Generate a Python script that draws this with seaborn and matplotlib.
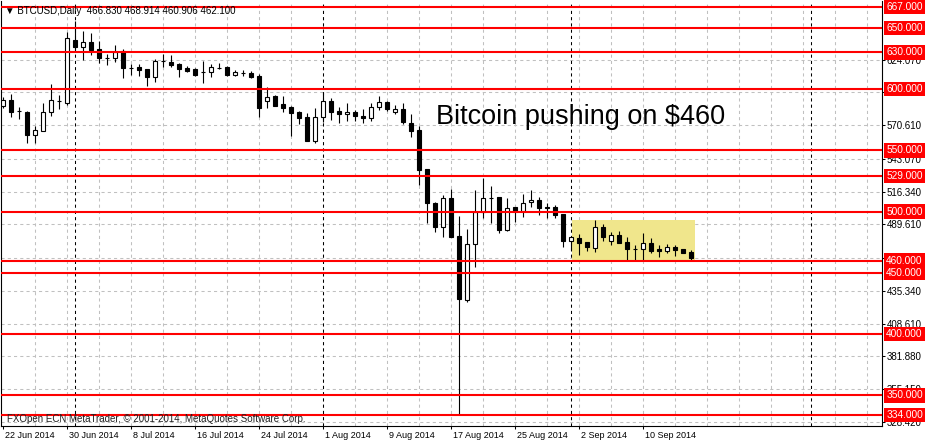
import numpy as np
import pandas as pd
import matplotlib
matplotlib.use('Agg')
import matplotlib.pyplot as plt
import matplotlib.transforms as mtransforms
from matplotlib.patches import Rectangle
import seaborn as sns

# BTCUSD daily candles, 22 Jun 2014 .. 16 Sep 2014
dates = pd.date_range('2014-06-22', '2014-09-16', freq='D')
opens = [586.3, 591.2, 582.2, 581.4, 562.6, 565.9, 581.4, 590.4, 588.8, 640.2,
         634.5, 638.6, 632.9, 625.5, 625.5, 631.2, 617.3, 618.2, 616.5, 610.0,
         623.1, 622.2, 620.6, 617.3, 616.5, 614.1, 614.1, 617.3, 618.2, 611.6,
         613.3, 613.3, 610.8, 590.4, 594.5, 587.9, 585.5, 581.4, 577.3, 557.7,
         577.3, 590.4, 582.2, 579.8, 581.4, 578.1, 576.5, 585.5, 589.6, 581.4,
         583.9, 572.4, 566.7, 534.9, 507.1, 487.5, 511.2, 480.2, 427.9, 473.6,
         499.8, 511.2, 512.0, 485.1, 503.8, 500.6, 507.9, 509.6, 503.4, 503.8,
         498.1, 476.1, 478.5, 475.3, 470.4, 487.5, 476.1, 481.0, 475.3, 469.6,
         469.6, 474.5, 469.6, 467.9, 471.2, 469.6, 466.83]
highs = [593.7, 596.1, 585.5, 582.0, 570.0, 588.8, 604.3, 595.3, 646.7, 655.7,
         647.6, 645.9, 639.4, 628.8, 636.1, 632.9, 620.6, 620.6, 616.8, 624.7,
         628.8, 628.0, 621.0, 619.0, 617.0, 623.1, 620.6, 621.4, 619.0, 615.7,
         615.7, 614.9, 612.4, 601.8, 595.0, 594.5, 586.0, 582.0, 580.6, 584.7,
         597.7, 592.8, 585.5, 588.8, 583.0, 583.9, 588.8, 594.5, 590.4, 587.1,
         588.8, 579.8, 570.0, 535.0, 507.5, 513.6, 518.5, 496.5, 485.9, 517.7,
         527.5, 521.0, 512.3, 511.2, 504.0, 514.5, 517.7, 512.0, 507.1, 505.5,
         498.5, 479.6, 481.8, 475.6, 493.2, 490.0, 483.4, 484.2, 479.4, 472.8,
         482.6, 478.5, 472.8, 473.6, 472.8, 469.8, 468.914]
lows = [584.7, 577.3, 575.7, 556.1, 556.1, 565.5, 578.1, 583.9, 587.1, 632.0,
        623.9, 628.0, 621.4, 619.8, 622.2, 609.2, 611.6, 610.8, 602.6, 605.9,
        618.2, 618.2, 610.0, 614.1, 611.0, 605.1, 610.0, 616.5, 611.0, 610.8,
        610.8, 609.2, 577.3, 584.7, 586.0, 581.4, 561.8, 571.6, 557.5, 556.1,
        573.2, 574.9, 572.4, 574.1, 574.1, 572.4, 574.1, 583.0, 582.2, 579.8,
        571.6, 561.0, 521.8, 490.8, 483.4, 479.4, 479.0, 334.0, 426.3, 454.9,
        494.9, 490.8, 482.6, 484.2, 491.6, 495.7, 503.8, 497.3, 494.9, 494.9,
        471.2, 468.7, 464.7, 467.9, 467.1, 476.1, 472.8, 474.3, 460.6, 460.6,
        460.6, 466.3, 463.0, 466.3, 463.8, 466.0, 460.906]
closes = [591.2, 581.4, 582.0, 562.6, 566.7, 581.4, 591.2, 590.0, 641.8, 634.5,
          638.6, 632.0, 625.5, 625.2, 630.4, 617.3, 617.0, 615.7, 610.0, 623.1,
          622.8, 619.8, 616.5, 614.9, 611.6, 613.8, 618.2, 617.6, 611.6, 614.1,
          613.0, 610.0, 584.7, 593.7, 586.3, 584.7, 580.6, 576.5, 557.7, 577.3,
          590.4, 581.4, 579.8, 581.4, 578.1, 576.5, 585.5, 589.6, 583.9, 583.9,
          573.2, 565.9, 534.1, 507.1, 487.5, 511.2, 479.4, 428.7, 473.6, 499.8,
          511.2, 511.5, 485.1, 503.0, 500.6, 507.1, 509.6, 503.0, 503.1, 497.3,
          476.1, 479.4, 474.5, 471.2, 487.5, 479.4, 481.0, 474.5, 469.6, 469.3,
          474.5, 467.9, 467.9, 471.2, 468.7, 466.3, 462.1]

# horizontal support / resistance levels
levels = [667, 650, 630, 600, 550, 529, 500, 460, 450, 400, 350, 334]
# price scale of the terminal
price_ticks = [328.42, 355.15, 381.88, 408.61, 435.34, 462.07, 489.61,
               516.34, 543.07, 570.61, 597.34, 624.07]
date_labels = ['22 Jun 2014', '30 Jun 2014', '8 Jul 2014', '16 Jul 2014',
               '24 Jul 2014', '1 Aug 2014', '9 Aug 2014', '17 Aug 2014',
               '25 Aug 2014', '2 Sep 2014', '10 Sep 2014']
# shaded consolidation zone
zone_start, zone_end = '2014-09-01', '2014-09-16'
zone_low, zone_high = 460, 493.2

df = pd.DataFrame({'Date': dates, 'Open': opens, 'High': highs,
                   'Low': lows, 'Close': closes})
df['Bar'] = np.arange(len(df))
df['Up'] = df['Close'] >= df['Open']

sns.set_theme(style='white')
plt.rcParams['font.family'] = ['Liberation Sans', 'DejaVu Sans']

fig = plt.figure(figsize=(9.25, 4.44), dpi=100)
ax = fig.add_axes([1 / 925, 18 / 444, 881 / 925, 425 / 444])
ax.set_facecolor('white')
ax.set_xlim(-0.25, 109.875)
ax.set_ylim(325.0, 672.0)

# whole calendar shown on the chart (incl. empty shift area on the right)
calendar = pd.date_range(dates[0], periods=110, freq='D')

# grid
ax.vlines(np.arange(4, 110, 4), 0, 1, transform=ax.get_xaxis_transform(),
          color='#c0c0c0', lw=0.75, linestyle=(0, (3, 3)), zorder=0.5)
ax.hlines(price_ticks, 0, 1, transform=ax.get_yaxis_transform(),
          color='#c0c0c0', lw=0.75, linestyle=(0, (3, 3)), zorder=0.5)

# consolidation box
z0 = df.loc[df['Date'] == zone_start, 'Bar'].iloc[0] + 0.1
z1 = df.loc[df['Date'] == zone_end, 'Bar'].iloc[0] + 0.5
ax.add_patch(Rectangle((z0, zone_low), z1 - z0, zone_high - zone_low,
                       fc='#F0E68C', ec='none', zorder=0.8))

# month separators
months = np.where(calendar.day == 1)[0]
ax.vlines(months, 0, 1, transform=ax.get_xaxis_transform(),
          color='black', lw=0.75, linestyle=(0, (3, 3)), zorder=1)

# candles
ax.vlines(df['Bar'], df['Low'], df['High'], color='black', lw=0.8, zorder=2)
up = df[df['Up']]
dn = df[~df['Up']]
ax.bar(up['Bar'], up['Close'] - up['Open'], bottom=up['Open'], width=0.55,
       color='white', edgecolor='black', linewidth=0.8, zorder=3)
ax.bar(dn['Bar'], dn['Close'] - dn['Open'], bottom=dn['Open'], width=0.55,
       color='black', edgecolor='black', linewidth=0.8, zorder=3)

# levels
for lv in levels:
    ax.axhline(lv, color='#ff0000', lw=1.5, zorder=4)
    ax.annotate(f'{lv:.3f}', xy=(1, lv), xycoords=('axes fraction', 'data'),
                xytext=(3, 0), textcoords='offset points', ha='left',
                va='center', color='white', fontsize=7.3, zorder=10,
                annotation_clip=False,
                bbox=dict(boxstyle='square,pad=0.22', fc='#ff0000', ec='none'))

ax.text(54.1, 571.6, 'Bitcoin pushing on $460', fontsize=19.5,
        color='black', va='baseline', ha='left', zorder=6)

# axes styling
ax.yaxis.tick_right()
ax.set_yticks(price_ticks)
ax.set_yticklabels([f'{v:.3f}' for v in price_ticks])
ax.tick_params(axis='y', length=2, width=0.75, pad=1.5, labelsize=7,
               colors='black', direction='out')
ax.set_xticks(np.arange(0, 8 * len(date_labels), 8))
ax.set_xticklabels(date_labels)
ax.tick_params(axis='x', length=2.5, width=0.75, pad=1, labelsize=6.5,
               colors='black', direction='out', bottom=True)
shift = mtransforms.ScaledTranslation(0.02, 0, fig.dpi_scale_trans)
for lbl in ax.get_xticklabels():
    lbl.set_horizontalalignment('left')
    lbl.set_transform(lbl.get_transform() + shift)
for side in ['left', 'right', 'bottom']:
    ax.spines[side].set_color('black')
    ax.spines[side].set_linewidth(0.8)
ax.spines['top'].set_visible(False)
ax.grid(False)

fig.text(5 / 925, 1 - 11 / 444,
         '\u25bc BTCUSD,Daily  466.830 468.914 460.906 462.100',
         fontsize=7, color='black', va='center', ha='left')
fig.text(7 / 925, 1 - 419 / 444,
         'FXOpen ECN MetaTrader, \u00a9 2001-2014, MetaQuotes Software Corp.',
         fontsize=7, color='#202020', va='center', ha='left')

fig.savefig('out.png', dpi=100, facecolor='white')
